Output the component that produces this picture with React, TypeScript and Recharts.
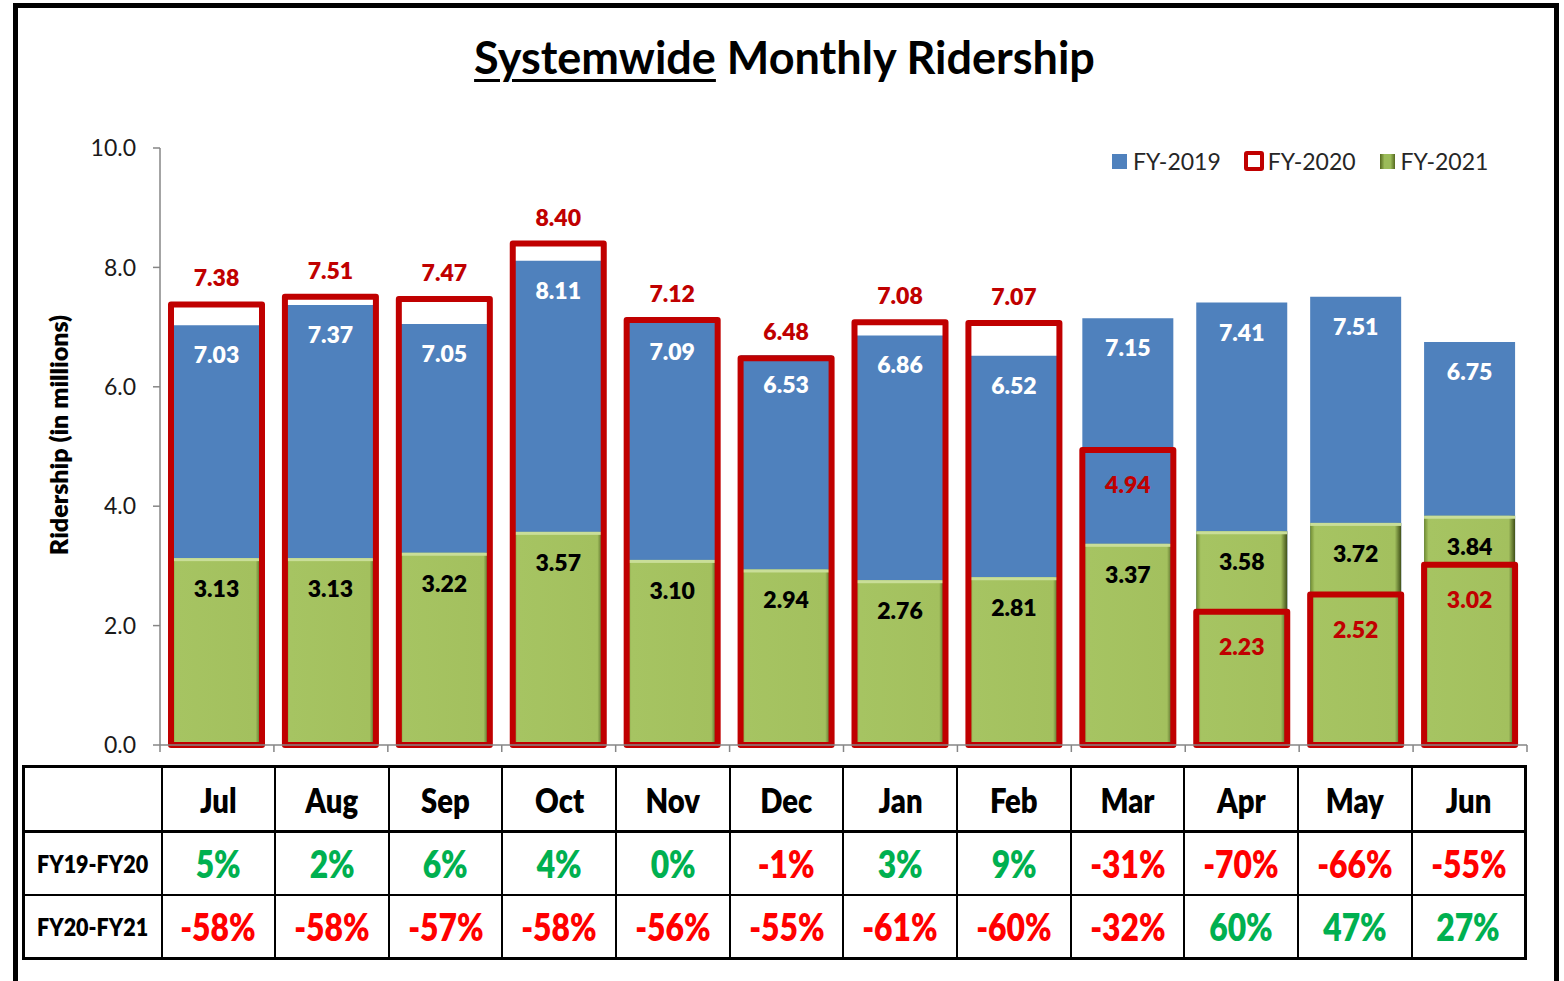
import { BarChart, Bar, XAxis, YAxis, Legend, LabelList, Label } from "recharts";

const months = ["Jul", "Aug", "Sep", "Oct", "Nov", "Dec", "Jan", "Feb", "Mar", "Apr", "May", "Jun"];
const fy2019 = [7.03, 7.37, 7.05, 8.11, 7.09, 6.53, 6.86, 6.52, 7.15, 7.41, 7.51, 6.75];
const fy2020 = [7.38, 7.51, 7.47, 8.4, 7.12, 6.48, 7.08, 7.07, 4.94, 2.23, 2.52, 3.02];
const fy2021 = [3.13, 3.13, 3.22, 3.57, 3.1, 2.94, 2.76, 2.81, 3.37, 3.58, 3.72, 3.84];
const chg1920 = ["5%", "2%", "6%", "4%", "0%", "-1%", "3%", "9%", "-31%", "-70%", "-66%", "-55%"];
const chg2021 = ["-58%", "-58%", "-57%", "-58%", "-56%", "-55%", "-61%", "-60%", "-32%", "60%", "47%", "27%"];
const yTicks = [0, 2, 4, 6, 8, 10];

const data = months.map((m, i) => ({
    month: m,
    fy2019: fy2019[i],
    fy2020: fy2020[i],
    fy2021: fy2021[i],
}));

const FONT = "Lato, 'Open Sans', sans-serif";
const BLUE = "#4F81BD";
const RED = "#C00000";
const PLOT_LEFT = 160;
const PLOT_RIGHT = 1527;
const HALF_BAND = (PLOT_RIGHT - PLOT_LEFT) / months.length / 2;

// label content gets either x/y/width or a viewBox depending on version
const box = (p: any) => {
    const vb = p.viewBox && p.viewBox.width !== undefined ? p.viewBox : p;
    return { x: Number(vb.x), y: Number(vb.y), w: Number(vb.width) };
};

const valueText = (x: number, y: number, v: number, fill: string) => (
    <text
        x={x}
        y={y}
        textAnchor="middle"
        dominantBaseline="central"
        fill={fill}
        fontWeight={800}
        fontSize={23}
        fontFamily={FONT}
    >
        {v.toFixed(2)}
    </text>
);

const BlueLabel = (p: any) => {
    const b = box(p);
    return valueText(b.x + b.w / 2, b.y + 29, Number(p.value), "#fff");
};

const GreenLabel = (p: any) => {
    const b = box(p);
    return valueText(b.x + b.w / 2, b.y + 30, Number(p.value), "#000");
};

const RedLabel = (p: any) => {
    const b = box(p);
    const inside = fy2020[p.index] < fy2019[p.index] - 1;
    return valueText(b.x + b.w / 2, inside ? b.y + 34 : b.y - 27, Number(p.value), RED);
};

const GreenBar = (p: any) => {
    const { x, y, width, height } = p;
    if (!height || height <= 0) return null;
    return (
        <g>
            <rect x={x} y={y} width={width} height={height} fill="url(#greenFill)" />
            <rect x={x} y={y} width={width} height={3} fill="#C9DE98" />
            <rect x={x} y={y + height - 3} width={width} height={3} fill="#6E8530" />
        </g>
    );
};

const RedBar = (p: any) => {
    const { x, y, width, height } = p;
    if (!height || height <= 0) return null;
    return (
        <rect
            x={x}
            y={y}
            width={width}
            height={height}
            fill="none"
            stroke={RED}
            strokeWidth={6}
            strokeLinejoin="round"
        />
    );
};

const BoundaryTick = (p: any) => {
    const { x, y, index } = p;
    return (
        <g>
            <line x1={x - HALF_BAND} x2={x - HALF_BAND} y1={y} y2={y + 7} stroke="#868686" strokeWidth={1.5} />
            {index === months.length - 1 && (
                <line x1={x + HALF_BAND} x2={x + HALF_BAND} y1={y} y2={y + 7} stroke="#868686" strokeWidth={1.5} />
            )}
        </g>
    );
};

const LegendBox = () => (
    <div style={{ display: "flex", alignItems: "center", fontFamily: FONT, fontSize: 23, color: "#262626" }}>
        <span style={{ width: 15, height: 15, background: BLUE, marginRight: 6 }} />
        <span style={{ marginRight: 23 }}>FY-2019</span>
        <span
            style={{
                width: 12,
                height: 12,
                border: `4px solid ${RED}`,
                borderRadius: 3,
                background: "#fff",
                marginRight: 4,
            }}
        />
        <span style={{ marginRight: 24 }}>FY-2020</span>
        <span
            style={{
                width: 15,
                height: 15,
                background: "linear-gradient(90deg,#55691f,#9BBB59 30%,#9BBB59 70%,#55691f)",
                marginRight: 6,
            }}
        />
        <span>FY-2021</span>
    </div>
);

const cellText = (s: string, color: string, size: number) => (
    <span
        style={{
            display: "inline-block",
            transform: "scaleX(0.86)",
            color,
            fontSize: size,
            fontWeight: 800,
            fontFamily: FONT,
        }}
    >
        {s}
    </span>
);

const pctColor = (s: string) => (s.startsWith("-") ? "#FF0000" : "#00B050");

const DataTable = () => {
    const cell = { border: "2px solid #000", textAlign: "center" as const, padding: 0 };
    const head = { ...cell, borderBottom: "3px solid #000" };
    return (
        <table
            style={{
                position: "absolute",
                left: 22,
                top: 765,
                width: 1505,
                tableLayout: "fixed",
                borderCollapse: "collapse",
                border: "3px solid #000",
            }}
        >
            <colgroup>
                <col style={{ width: 138 }} />
                {months.map((m) => (
                    <col key={m} />
                ))}
            </colgroup>
            <tbody>
                <tr style={{ height: 65 }}>
                    <td style={head} />
                    {months.map((m) => (
                        <td key={m} style={head}>
                            {cellText(m, "#000", 34)}
                        </td>
                    ))}
                </tr>
                <tr style={{ height: 63 }}>
                    <td style={cell}>{cellText("FY19-FY20", "#000", 25)}</td>
                    {chg1920.map((v, i) => (
                        <td key={i} style={cell}>
                            {cellText(v, pctColor(v), 37)}
                        </td>
                    ))}
                </tr>
                <tr style={{ height: 64 }}>
                    <td style={cell}>{cellText("FY20-FY21", "#000", 25)}</td>
                    {chg2021.map((v, i) => (
                        <td key={i} style={cell}>
                            {cellText(v, pctColor(v), 37)}
                        </td>
                    ))}
                </tr>
            </tbody>
        </table>
    );
};

const App = () => {
    return (
        <div
            style={{
                position: "absolute",
                left: 0,
                top: 0,
                width: 1564,
                height: 981,
                overflow: "hidden",
                background: "#fff",
                fontFamily: FONT,
            }}
        >
            <div
                style={{
                    position: "absolute",
                    left: 13,
                    top: 3,
                    width: 1536,
                    height: 1000,
                    borderTop: "5px solid #000",
                    borderLeft: "5px solid #000",
                    borderRight: "5px solid #000",
                }}
            />
            <div
                style={{
                    position: "absolute",
                    left: 0,
                    top: 30,
                    width: 1569,
                    textAlign: "center",
                    fontSize: 45,
                    fontWeight: 700,
                    lineHeight: "54px",
                    color: "#000",
                }}
            >
                <span style={{ textDecoration: "underline", textDecorationThickness: 3, textUnderlineOffset: 5 }}>
                    Systemwide
                </span>{" "}
                Monthly Ridership
            </div>
            <div style={{ position: "absolute", left: 0, top: 0 }}>
                <BarChart
                    width={1564}
                    height={760}
                    data={data}
                    margin={{ top: 148, right: 1564 - PLOT_RIGHT, bottom: 7, left: 0 }}
                    barSize={91}
                    barGap={-91}
                >
                    <defs>
                        <linearGradient id="greenFill" x1="0" y1="0" x2="1" y2="0">
                            <stop offset="0%" stopColor="#6F8A30" />
                            <stop offset="5%" stopColor="#A6C462" />
                            <stop offset="93%" stopColor="#A3C05E" />
                            <stop offset="100%" stopColor="#3F4F17" />
                        </linearGradient>
                    </defs>
                    <XAxis
                        dataKey="month"
                        height={8}
                        interval={0}
                        tickSize={0}
                        tickMargin={0}
                        tickLine={false}
                        tick={<BoundaryTick />}
                        axisLine={{ stroke: "#868686", strokeWidth: 1.5 }}
                    />
                    <YAxis
                        width={PLOT_LEFT}
                        domain={[0, 10]}
                        ticks={yTicks}
                        tickFormatter={(v: number) => v.toFixed(1)}
                        tickSize={7}
                        tickMargin={17}
                        tick={{ fill: "#1a1a1a", fontSize: 23, fontFamily: FONT }}
                        axisLine={{ stroke: "#868686", strokeWidth: 1.5 }}
                        tickLine={{ stroke: "#868686", strokeWidth: 1.5 }}
                    >
                        <Label
                            content={() => (
                                <text
                                    transform="translate(58, 435) rotate(-90)"
                                    textAnchor="middle"
                                    dominantBaseline="central"
                                    fontWeight={800}
                                    fontSize={25}
                                    fontFamily={FONT}
                                    fill="#000"
                                >
                                    Ridership (in millions)
                                </text>
                            )}
                        />
                    </YAxis>
                    <Legend
                        layout="horizontal"
                        verticalAlign="middle"
                        align="center"
                        content={<LegendBox />}
                        wrapperStyle={{ left: 1112, top: 147, width: 420, height: 30 }}
                    />
                    <Bar dataKey="fy2019" name="FY-2019" fill={BLUE} isAnimationActive={false}>
                        <LabelList dataKey="fy2019" content={<BlueLabel />} />
                    </Bar>
                    <Bar dataKey="fy2021" name="FY-2021" shape={<GreenBar />} isAnimationActive={false}>
                        <LabelList dataKey="fy2021" content={<GreenLabel />} />
                    </Bar>
                    <Bar dataKey="fy2020" name="FY-2020" shape={<RedBar />} isAnimationActive={false}>
                        <LabelList dataKey="fy2020" content={<RedLabel />} />
                    </Bar>
                </BarChart>
            </div>
            <DataTable />
        </div>
    );
};

export default App;
